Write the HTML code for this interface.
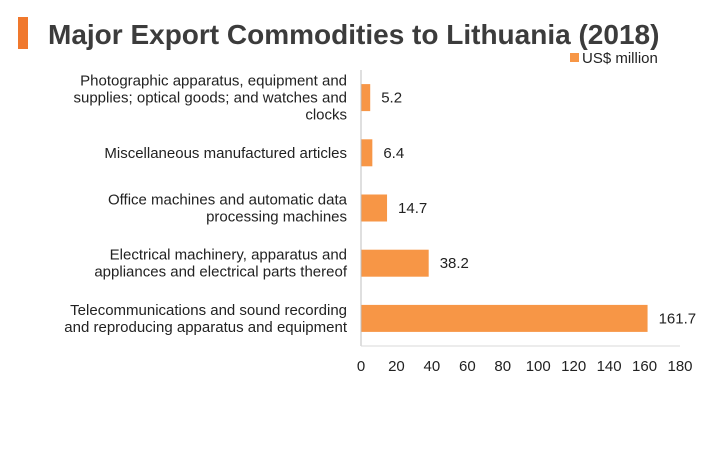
<!DOCTYPE html>
<html><head><meta charset="utf-8"><style>
body{margin:0;background:#fff;}
svg{display:block;font-family:"Liberation Sans",Arial,sans-serif;}
</style></head><body>
<svg width="720" height="450" viewBox="0 0 720 450">
<rect x="18" y="17" width="10" height="32" fill="#f0782d"/>
<text x="48" y="44" font-size="28" font-weight="bold" fill="#3c3c3c">Major Export Commodities to Lithuania (2018)</text>
<rect x="570" y="53" width="9" height="9" fill="#f79646"/>
<text x="582" y="63" font-size="15" fill="#222">US$ million</text>
<g id="plot"></g>
</svg>
<script>
const categories=[
 ["Photographic apparatus, equipment and","supplies; optical goods; and watches and","clocks"],
 ["Miscellaneous manufactured articles"],
 ["Office machines and automatic data","processing machines"],
 ["Electrical machinery, apparatus and","appliances and electrical parts thereof"],
 ["Telecommunications and sound recording","and reproducing apparatus and equipment"]
];
const values=[5.2,6.4,14.7,38.2,161.7];
const ticks=[0,20,40,60,80,100,120,140,160,180];
const NS="http://www.w3.org/2000/svg";
const plotG=document.getElementById('plot');
const x0=361,x1=680,yTop=70,yBottom=346,maxV=180;
const xs=v=>x0+(v/maxV)*(x1-x0);
const step=(yBottom-yTop)/categories.length;
function mk(t,a,p){const e=document.createElementNS(NS,t);for(const k in a)e.setAttribute(k,a[k]);(p||plotG).appendChild(e);return e;}
values.forEach((v,i)=>{
 const cy=yTop+step*(i+0.5);
 const r=mk('rect',{x:x0,y:cy-13.5,width:xs(v)-x0,height:27,fill:'#f79646'});
 
 
 const t=mk('text',{x:xs(v)+11,y:cy+5,'font-size':15,fill:'#222'});
 t.textContent=v.toFixed(1);
 
 
 const lines=categories[i];
 const lt=mk('text',{'font-size':15,fill:'#222','text-anchor':'end'});
 
 
 lines.forEach((l,j)=>{const ts=mk('tspan',{x:347,y:cy+5+(j-(lines.length-1)/2)*17},lt);ts.textContent=l;});
});
const ya=mk('line',{x1:x0,y1:yTop,x2:x0,y2:yBottom,stroke:'#bfbfbf','stroke-width':1});


const xa=mk('line',{x1:x0,y1:yBottom,x2:x1,y2:yBottom,stroke:'#d9d9d9','stroke-width':1});


ticks.forEach(tv=>{
 const t=mk('text',{x:xs(tv),y:371,'font-size':15,fill:'#222','text-anchor':'middle'});
 t.textContent=tv;
 
 
});
</script>
</body></html>
